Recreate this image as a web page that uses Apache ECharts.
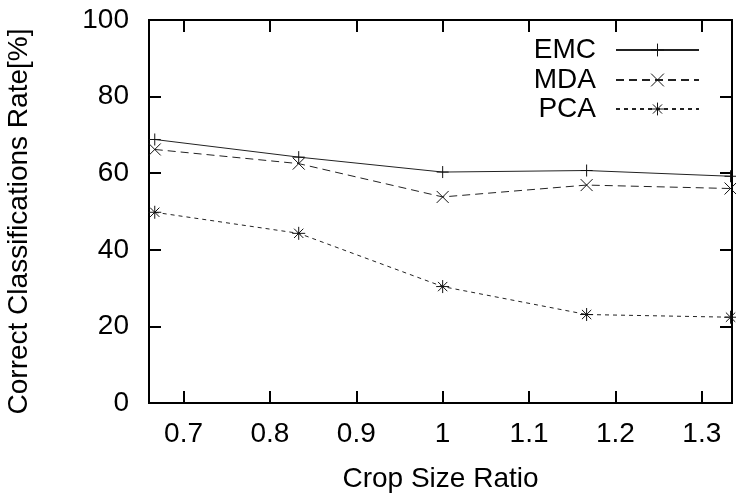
<!DOCTYPE html>
<html>
<head>
<meta charset="utf-8">
<script src="https://cdn.jsdelivr.net/npm/echarts@6/dist/echarts.min.js"></script>
<style>html,body{margin:0;padding:0;background:#fff;}#c{width:736px;height:494px;}</style>
</head>
<body>
<div id="c"></div>
<script>
const cropRatios = [2/3, 5/6, 1, 7/6, 4/3];
const emc = [68.8, 64.2, 60.3, 60.7, 59.2];
const mda = [66.2, 62.5, 53.8, 56.9, 56.0];
const pca = [49.8, 44.3, 30.4, 23.1, 22.4];
const seriesNames = ['EMC', 'MDA', 'PCA'];
const xTitle = 'Crop Size Ratio';
const yTitle = 'Correct Classifications Rate[%]';

const FONT = 'Liberation Sans, Arial, sans-serif';
const plus = 'path://M0,-6L0,6M-6,0L6,0';
const cross = 'path://M-6,-6L6,6M-6,6L6,-6';
const star = 'path://M0,-6L0,6M-6,0L6,0M-4.3,-4.3L4.3,4.3M-4.3,4.3L4.3,-4.3';

function pts(arr){ return cropRatios.map((x,i)=>[x, arr[i]]); }

const chart = echarts.init(document.getElementById('c'), null, {renderer:'canvas'});
function line(show){ return {show:show, onZero:false, lineStyle:{color:'#000', width:2}}; }
function outTick(){ return {show:true, inside:false, length:12, lineStyle:{color:'#000', width:2}}; }
function series(name, data, symbol, size, dash){
  return {
    name, type:'line', xAxisIndex:0, yAxisIndex:0, data:pts(data), symbol, symbolSize:size,
    showAllSymbol:true,
    lineStyle:{color:'#222', width:1, type:dash},
    itemStyle:{color:'none', borderColor:'#111', borderWidth:1},
    emphasis:{disabled:true}, animation:false, clip:false
  };
}
function legend(name, top){
  return {
    data:[{name, itemStyle:{color:'none', borderColor:'#111', borderWidth:1}}],
    orient:'horizontal', align:'right', right:31, top,
    itemWidth:83, itemHeight:16, selectedMode:false,
    textStyle:{fontFamily:FONT, fontSize:28, color:'#000', padding:[0,15,0,0]}
  };
}
const xRange = {type:'value', min:0.66, max:1.335, minInterval:0.1, maxInterval:0.1, splitNumber:7};
const yRange = {type:'value', min:0, max:100, interval:20};
function tickX(pos){
  return Object.assign({}, xRange, {position:pos, offset:-12, axisLine:line(false), axisTick:outTick(),
    splitLine:{show:false}, axisLabel:{show:false}});
}
function tickY(pos){
  return Object.assign({}, yRange, {position:pos, offset:-12, axisLine:line(false), axisTick:outTick(),
    splitLine:{show:false}, axisLabel:{show:false}});
}
chart.setOption({
  animation:false,
  grid:{left:149, top:20, right:4, bottom:91, containLabel:false, outerBoundsMode:'none',
    show:true, borderColor:'#000', borderWidth:2, backgroundColor:'transparent'},
  legend:[legend('EMC', 31), legend('MDA', 61), legend('PCA', 90)],
  xAxis:[
    Object.assign({}, xRange, {position:'bottom',
      name:xTitle, nameLocation:'middle', nameGap:62,
      nameTextStyle:{fontFamily:FONT, fontSize:28, color:'#000'},
      axisLine:line(true), axisTick:{show:false}, splitLine:{show:false},
      axisLabel:{fontFamily:FONT, fontSize:28, color:'#000', margin:17, showMinLabel:false, showMaxLabel:false,
        formatter:v=>String(Math.round(v*10)/10)}}),
    tickX('bottom'),
    tickX('top')
  ],
  yAxis:[
    Object.assign({}, yRange, {position:'left',
      name:yTitle, nameLocation:'middle', nameGap:116,
      nameTextStyle:{fontFamily:FONT, fontSize:28, color:'#000', padding:[0,20,0,0]},
      axisLine:line(true), axisTick:{show:false}, splitLine:{show:false},
      axisLabel:{fontFamily:FONT, fontSize:28, color:'#000', margin:20}}),
    tickY('left'),
    tickY('right')
  ],
  series:[
    series('EMC', emc, plus, 12, 'solid'),
    series('MDA', mda, cross, 12, [8,5]),
    series('PCA', pca, star, 13, [4,4])
  ]
});
</script>
</body>
</html>
